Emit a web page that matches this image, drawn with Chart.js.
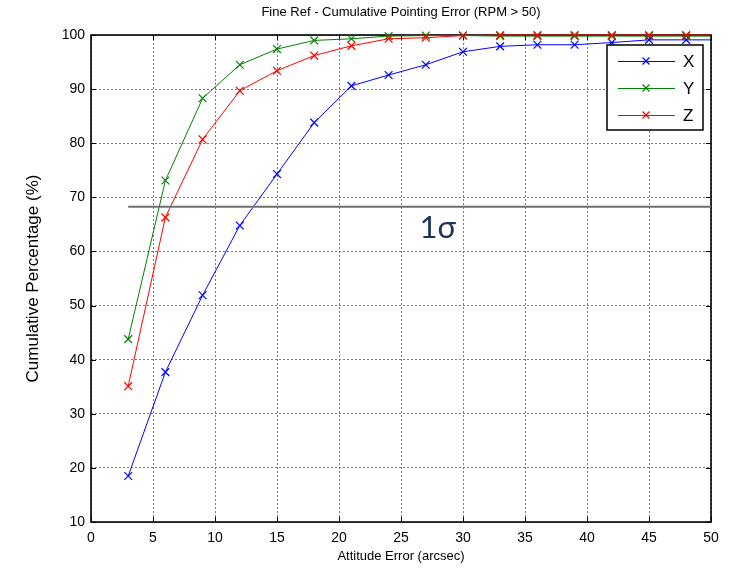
<!DOCTYPE html>
<html>
<head>
<meta charset="utf-8">
<script src="https://cdn.jsdelivr.net/npm/chart.js@4.4.1/dist/chart.umd.min.js"></script>
<style>
  html, body { margin: 0; padding: 0; background: #ffffff; }
  #wrap { width: 730px; height: 574px; position: relative; }
</style>
</head>
<body>
<div id="wrap"><canvas id="c" width="730" height="574"></canvas></div>
<script>
// Attitude error bins (arcsec) and cumulative percentage per axis
const errorArcsec = [3, 6, 9, 12, 15, 18, 21, 24, 27, 30, 33, 36, 39, 42, 45, 48, 50];
const xPct = [18.5, 37.7, 51.9, 64.8, 74.3, 83.8, 90.6, 92.6, 94.5, 96.9, 97.9, 98.2, 98.2, 98.6, 99.1, 99.1, 99.1];
const yPct = [43.8, 73.1, 88.3, 94.5, 97.4, 99.0, 99.3, 99.8, 99.9, 99.9, 99.8, 99.8, 99.8, 99.8, 99.8, 99.8, 99.8];
const zPct = [35.1, 66.3, 80.7, 89.7, 93.4, 96.2, 98.0, 99.3, 99.5, 99.9, 100, 100, 100, 100, 100, 100, 100];
const seriesNames = ['X', 'Y', 'Z'];
const seriesValues = [xPct, yPct, zPct];
const seriesColors = ['#0000ff', '#008000', '#ff0000'];
const lastMarkedArcsec = 48;

// One-sigma reference level
const oneSigmaPct = 68.27;
const oneSigmaSpan = [3, 50];
const oneSigmaLabel = '1σ';
const oneSigmaLabelAt = [26.5, 64.3];

const xRange = [0, 50], xStep = 5;
const yRange = [10, 100], yStep = 10;

const titleText = 'Fine Ref - Cumulative Pointing Error (RPM > 50)';
const xTitle = 'Attitude Error (arcsec)';
const yTitle = 'Cumulative Percentage (%)';

const FONT = '"Liberation Sans", Arial, Helvetica, sans-serif';
Chart.defaults.font.family = FONT;
Chart.defaults.font.size = 14;
Chart.defaults.color = '#000000';

const toPoints = vals => errorArcsec.map((e, i) => ({ x: e, y: vals[i] }));

const datasets = seriesNames.map((name, k) => ({
  label: name,
  data: toPoints(seriesValues[k]),
  borderColor: seriesColors[k],
  backgroundColor: seriesColors[k],
  borderWidth: 1,
  pointStyle: 'crossRot',
  pointRadius: ctx => (errorArcsec[ctx.dataIndex] > lastMarkedArcsec ? 0 : 5.5),
  pointBorderWidth: 1.2,
  pointBorderColor: seriesColors[k],
  tension: 0,
  clip: 8,
  order: 3 - k
}));

datasets.push({
  label: 'oneSigma',
  data: oneSigmaSpan.map(x => ({ x, y: oneSigmaPct })),
  borderColor: '#707070',
  borderWidth: 2,
  pointRadius: 0,
  tension: 0,
  order: 0
});

// Axes box with inward tick marks, drawn beneath the data lines
const axesBox = {
  id: 'axesBox',
  beforeDatasetsDraw(chart) {
    const { ctx, chartArea: a, scales } = chart;
    const len = 5;
    ctx.save();
    ctx.strokeStyle = '#000000';
    ctx.lineWidth = 1;
    ctx.beginPath();
    scales.x.ticks.forEach(t => {
      const px = Math.round(scales.x.getPixelForValue(t.value)) + 0.5;
      ctx.moveTo(px, a.bottom); ctx.lineTo(px, a.bottom - len);
      ctx.moveTo(px, a.top); ctx.lineTo(px, a.top + len);
    });
    scales.y.ticks.forEach(t => {
      const py = Math.round(scales.y.getPixelForValue(t.value)) + 0.5;
      ctx.moveTo(a.left, py); ctx.lineTo(a.left + len, py);
      ctx.moveTo(a.right, py); ctx.lineTo(a.right - len, py);
    });
    ctx.stroke();
    ctx.lineWidth = 1.6;
    ctx.strokeRect(a.left, a.top, a.right - a.left, a.bottom - a.top);
    ctx.restore();
  }
};

// Title, sigma annotation and boxed legend
const overlays = {
  id: 'overlays',
  afterDraw(chart) {
    const { ctx, chartArea: a, scales } = chart;
    ctx.save();
    ctx.fillStyle = '#000000';
    ctx.font = '13px ' + FONT;
    ctx.textAlign = 'center';
    ctx.textBaseline = 'middle';
    ctx.fillText(titleText, (a.left + a.right) / 2, 12);

    ctx.fillStyle = '#1c3461';
    ctx.font = '31px Lato, "Open Sans", sans-serif';
    ctx.textAlign = 'left';
    ctx.fillText(oneSigmaLabel, scales.x.getPixelForValue(oneSigmaLabelAt[0]),
                 scales.y.getPixelForValue(oneSigmaLabelAt[1]));

    const bx = 607, by = 45, bw = 96, bh = 85;
    ctx.fillStyle = '#ffffff';
    ctx.fillRect(bx, by, bw, bh);
    ctx.strokeStyle = '#000000';
    ctx.lineWidth = 1.5;
    ctx.strokeRect(bx, by, bw, bh);
    const rows = [61, 88, 115];
    ctx.font = '17px ' + FONT;
    ctx.textBaseline = 'middle';
    seriesNames.forEach((name, k) => {
      const y = rows[k];
      ctx.strokeStyle = seriesColors[k];
      ctx.lineWidth = 1;
      ctx.beginPath();
      ctx.moveTo(618, y + 0.5); ctx.lineTo(675, y + 0.5);
      ctx.stroke();
      ctx.lineWidth = 1.2;
      ctx.beginPath();
      ctx.moveTo(642.5, y - 3.5); ctx.lineTo(649.5, y + 3.5);
      ctx.moveTo(649.5, y - 3.5); ctx.lineTo(642.5, y + 3.5);
      ctx.stroke();
      ctx.fillStyle = '#000000';
      ctx.textAlign = 'left';
      ctx.fillText(name, 683, y + 1);
    });
    ctx.restore();
  }
};

const gridStyle = { color: '#7a7a7a', lineWidth: 1, drawTicks: false };
const borderStyle = { display: false, dash: [2, 2] };

new Chart(document.getElementById('c'), {
  type: 'line',
  data: { datasets },
  options: {
    responsive: false,
    animation: false,
    events: [],
    layout: { padding: { top: 35, right: 19, left: 0, bottom: 0 } },
    plugins: { legend: { display: false }, title: { display: false }, tooltip: { enabled: false } },
    scales: {
      x: {
        type: 'linear', min: xRange[0], max: xRange[1],
        ticks: { stepSize: xStep, padding: 8, maxRotation: 0, color: '#000000' },
        grid: gridStyle, border: borderStyle,
        title: { display: true, text: xTitle, font: { family: FONT, size: 13 },
                 padding: { top: 0, bottom: 10 }, color: '#000000' },
        afterFit: s => { s.height = 52; }
      },
      y: {
        type: 'linear', min: yRange[0], max: yRange[1],
        ticks: { stepSize: yStep, padding: 6, color: '#000000' },
        grid: gridStyle, border: borderStyle,
        title: { display: true, text: yTitle, font: { family: FONT, size: 17 },
                 padding: { top: 23, bottom: 0 }, color: '#000000' },
        afterFit: s => { s.width = 91; }
      }
    }
  },
  plugins: [axesBox, overlays]
});
</script>
</body>
</html>
